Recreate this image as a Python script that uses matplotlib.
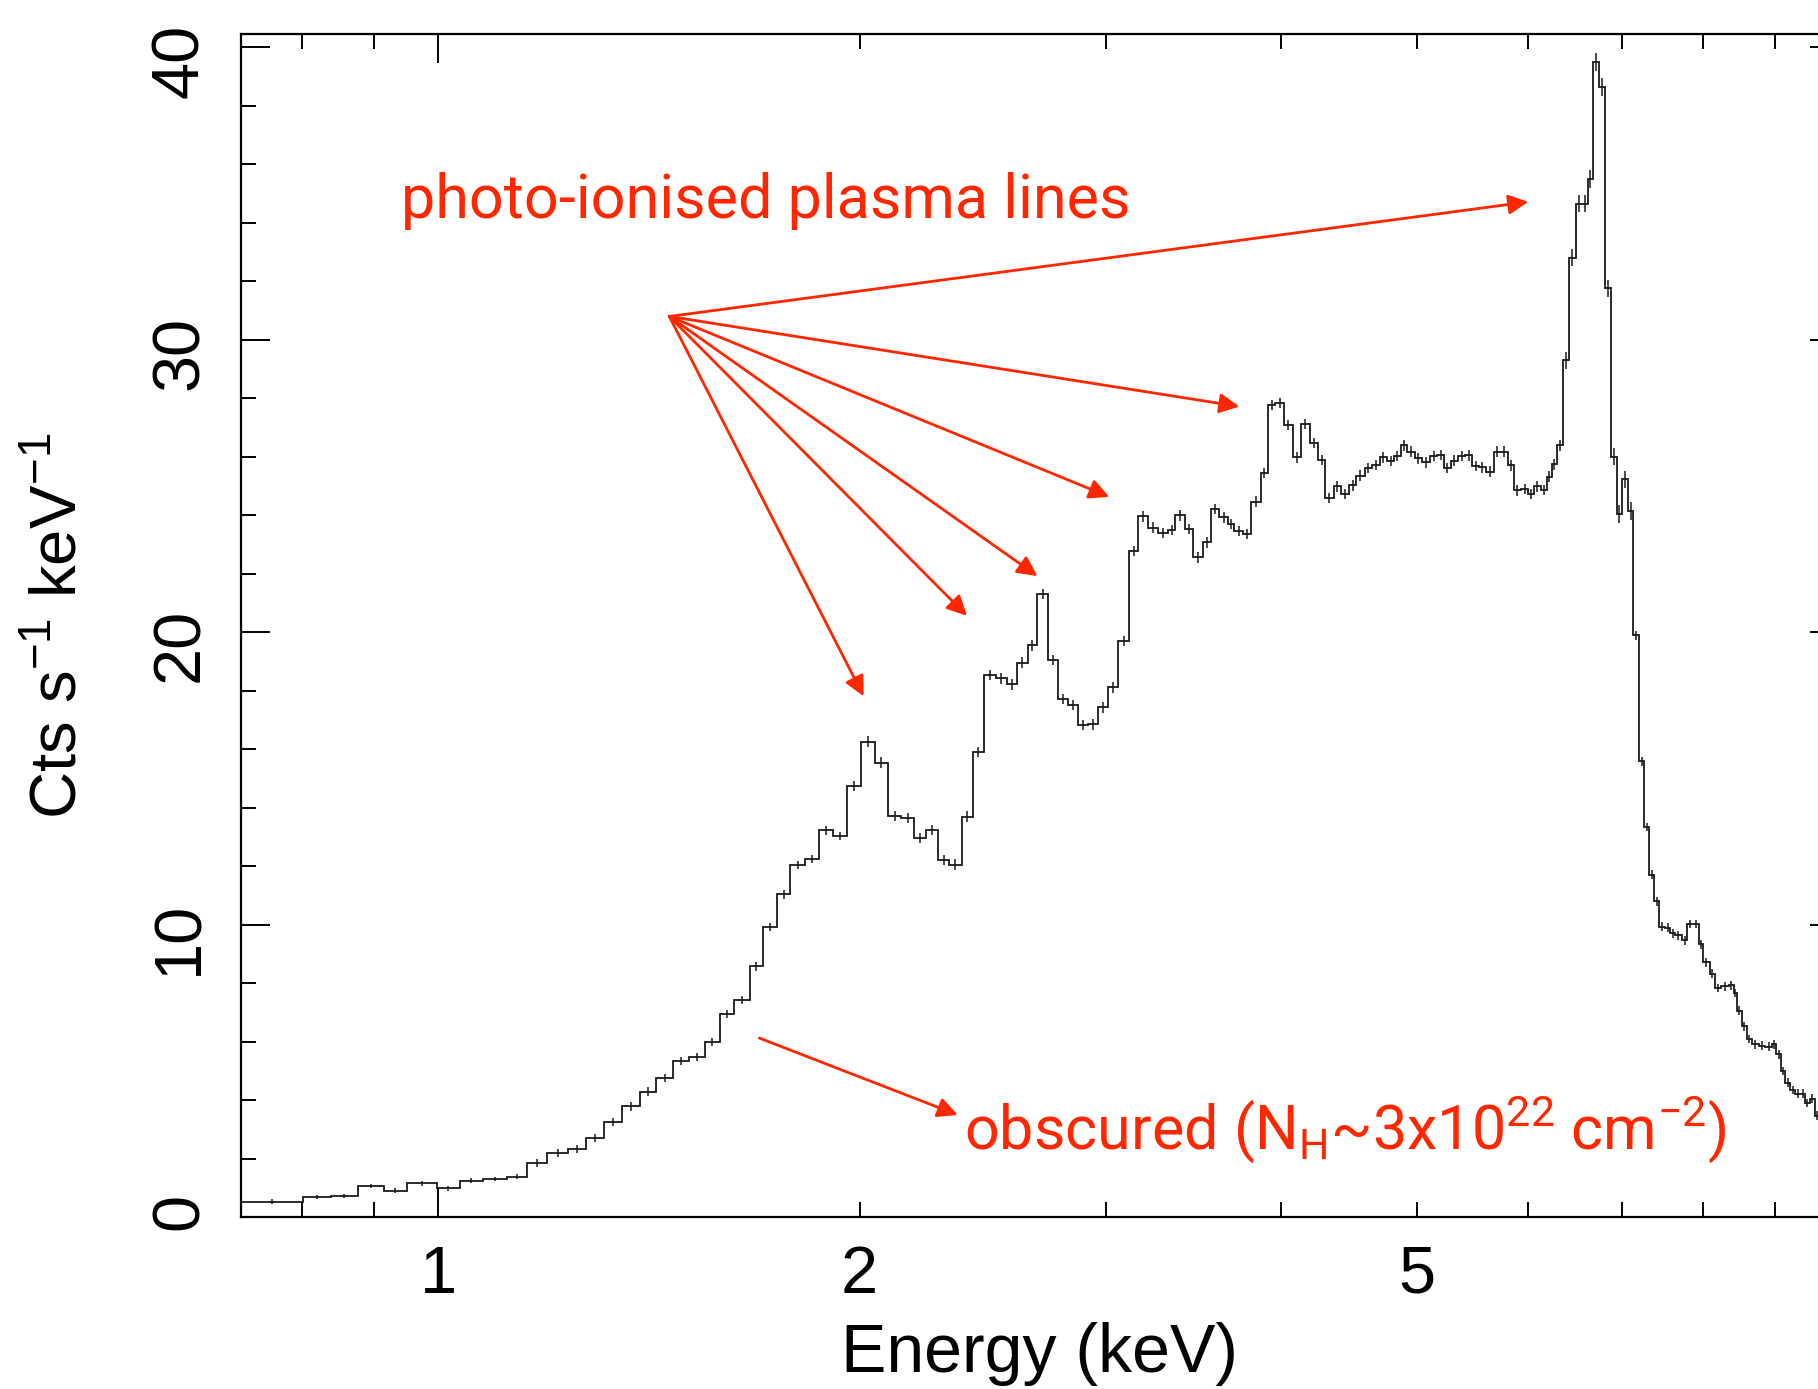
import matplotlib
matplotlib.use("Agg")
import matplotlib.pyplot as plt
from matplotlib.ticker import FixedLocator, FuncFormatter, MultipleLocator
import numpy as np

# ---------------- data ----------------
bin_edges_kev = [
    0.723, 0.801, 0.838, 0.876, 0.915, 0.950, 0.998, 1.037, 1.076, 1.120,
    1.158, 1.197, 1.239, 1.275, 1.314, 1.353, 1.393, 1.432, 1.471, 1.510,
    1.550, 1.589, 1.628, 1.669, 1.707, 1.747, 1.785, 1.827, 1.870, 1.915,
    1.960, 2.003, 2.050, 2.095, 2.142, 2.186, 2.229, 2.276, 2.317, 2.366,
    2.408, 2.452, 2.502, 2.548, 2.590, 2.636, 2.677, 2.727, 2.769, 2.815,
    2.862, 2.910, 2.958, 3.007, 3.060, 3.113, 3.162, 3.215, 3.265, 3.319,
    3.361, 3.417, 3.462, 3.516, 3.564, 3.613, 3.663, 3.704, 3.755, 3.807,
    3.866, 3.913, 3.960, 4.018, 4.078, 4.134, 4.191, 4.249, 4.300, 4.359,
    4.410, 4.471, 4.525, 4.588, 4.644, 4.702, 4.760, 4.815, 4.868, 4.922,
    4.981, 5.042, 5.106, 5.171, 5.228, 5.285, 5.350, 5.415, 5.475, 5.535,
    5.599, 5.675, 5.729, 5.803, 5.863, 5.933, 6.004, 6.059, 6.130, 6.187,
    6.238, 6.290, 6.352, 6.419, 6.490, 6.554, 6.619, 6.682, 6.744, 6.811,
    6.878, 6.943, 7.004, 7.070, 7.137, 7.203, 7.262, 7.327, 7.388, 7.449,
    7.518, 7.580, 7.643, 7.727, 7.800, 7.868, 7.943, 8.008, 8.088, 8.163,
    8.244, 8.345, 8.414, 8.460, 8.529, 8.600, 8.671, 8.767, 8.863, 8.961,
    9.025, 9.095, 9.160, 9.235, 9.312, 9.389, 9.466, 9.535, 9.614, 9.698,
    9.850, 10.0,
]

count_rate = [
    0.52, 0.68, 0.72, 1.06, 0.90, 1.15, 0.98, 1.24, 1.30, 1.38,
    1.86, 2.20, 2.32, 2.70, 3.24, 3.78, 4.29, 4.75, 5.34, 5.46,
    5.99, 6.95, 7.42, 8.57, 9.92, 11.03, 12.03, 12.25, 13.22, 13.03,
    14.74, 16.26, 15.54, 13.71, 13.65, 12.97, 13.23, 12.21, 12.05, 13.69,
    15.91, 18.54, 18.42, 18.22, 18.96, 19.55, 21.30, 19.05, 17.71, 17.51,
    16.82, 16.85, 17.43, 18.11, 19.70, 22.78, 23.96, 23.58, 23.39, 23.50,
    24.00, 23.53, 22.56, 23.07, 24.21, 23.93, 23.70, 23.47, 23.36, 24.47,
    25.45, 27.77, 27.84, 27.09, 25.98, 27.12, 26.47, 25.89, 24.59, 24.99,
    24.73, 25.02, 25.36, 25.61, 25.72, 25.98, 25.85, 26.02, 26.39, 26.18,
    25.95, 25.81, 26.02, 26.06, 25.62, 25.87, 26.02, 26.05, 25.68, 25.64,
    25.49, 26.18, 26.18, 25.71, 24.85, 24.90, 24.73, 24.99, 24.86, 25.32,
    25.74, 26.39, 29.30, 32.81, 34.66, 34.66, 35.50, 39.51, 38.64, 31.76,
    26.01, 24.05, 25.23, 24.14, 19.89, 15.58, 13.34, 11.71, 10.80, 9.93,
    9.90, 9.70, 9.63, 9.46, 10.02, 10.02, 9.32, 8.71, 8.32, 7.83,
    7.89, 7.92, 7.66, 7.05, 6.52, 6.09, 5.91, 5.86, 5.82, 5.91,
    5.56, 4.99, 4.60, 4.34, 4.22, 4.22, 3.90, 4.04, 3.47, 3.30,
    3.15,
]

count_err = ([0.08] * 10 + [0.14] * 20 + [0.18] * 82 + [0.30] * 12 + [0.15] * 37)

x_major_ticks = [1, 10]
x_minor_ticks = [0.8, 0.9, 2, 3, 4, 5, 6, 7, 8, 9]
x_tick_labels = {1: "1", 2: "2", 5: "5"}
y_major_ticks = [0, 10, 20, 30, 40]

plasma_label = "photo-ionised plasma lines"
plasma_label_pos = (0.941, 34.17)
plasma_arrow_origin = (1.4627, 30.80)
plasma_arrow_tips = [(6.004, 34.72), (3.734, 27.72), (3.015, 24.63),
                     (2.679, 21.92), (2.386, 20.56), (2.013, 17.81)]

obscured_label = (r"obscured (N$_\mathregular{H}$~3x10$^\mathregular{22}$"
                  r" cm$^\mathregular{-2}$)")
obscured_label_pos = (2.373, 2.315)
obscured_arrow = ((1.696, 6.12), (2.350, 3.49))

# ---------------- styling ----------------
RED = "#FF2600"
plt.rcParams["font.family"] = ["Liberation Sans", "DejaVu Sans"]
plt.rcParams["mathtext.fontset"] = "custom"
plt.rcParams["mathtext.rm"] = "Liberation Sans"

fig = plt.figure(figsize=(18.18, 13.89), dpi=100)
ax = fig.add_axes([0.13256, 0.12383, 0.87877, 0.85148])

edges = np.array(bin_edges_kev)
vals = np.array(count_rate)
errs = np.array(count_err)
centres = np.sqrt(edges[:-1] * edges[1:])

ax.stairs(vals, edges, baseline=None, color="#1a1a1a", lw=1.3)
ax.errorbar(centres, vals, yerr=errs, fmt="none", ecolor="#1a1a1a",
            elinewidth=1.1, capsize=0)

ax.set_xscale("log")
ax.set_xlim(0.7233, 10.0)
ax.set_ylim(0, 40.45)

ax.xaxis.set_major_locator(FixedLocator(x_major_ticks))
ax.xaxis.set_minor_locator(FixedLocator(x_minor_ticks))
lab = lambda v, p: x_tick_labels.get(int(round(v)) if abs(v - round(v)) < 1e-6 else -1, "")
ax.xaxis.set_major_formatter(FuncFormatter(lab))
ax.xaxis.set_minor_formatter(FuncFormatter(lab))

ax.yaxis.set_major_locator(FixedLocator(y_major_ticks))
ax.yaxis.set_minor_locator(MultipleLocator(2))

for s in ax.spines.values():
    s.set_linewidth(1.6)

ax.tick_params(which="both", direction="in", top=True, right=True,
               width=1.4, colors="black")
ax.tick_params(which="major", length=21)
ax.tick_params(which="minor", length=10.5)
ax.tick_params(axis="x", which="both", labelsize=48, pad=20)
ax.tick_params(axis="y", which="both", labelsize=48, pad=21, labelrotation=90)

ax.set_xlabel("Energy (keV)", fontsize=49, labelpad=11)
ax.set_ylabel(r"Cts s$^{\mathregular{-1}}$ keV$^{\mathregular{-1}}$",
              fontsize=47, labelpad=44)

# ---------------- annotations ----------------
red_font = dict(family=["Roboto", "DejaVu Sans"], weight="normal")
ax.text(*plasma_label_pos, plasma_label, color=RED, fontsize=44,
        ha="left", va="baseline", fontdict=red_font)
for tip in plasma_arrow_tips:
    ax.annotate("", xy=tip, xytext=plasma_arrow_origin,
                arrowprops=dict(arrowstyle="-|>", color=RED, lw=2.0,
                                mutation_scale=30, shrinkA=0, shrinkB=0))

ax.text(*obscured_label_pos, obscured_label, color=RED, fontsize=44,
        ha="left", va="baseline", fontdict=red_font)
ax.annotate("", xy=obscured_arrow[1], xytext=obscured_arrow[0],
            arrowprops=dict(arrowstyle="-|>", color=RED, lw=2.0,
                            mutation_scale=30, shrinkA=0, shrinkB=0))

fig.savefig("out.png", dpi=100)
